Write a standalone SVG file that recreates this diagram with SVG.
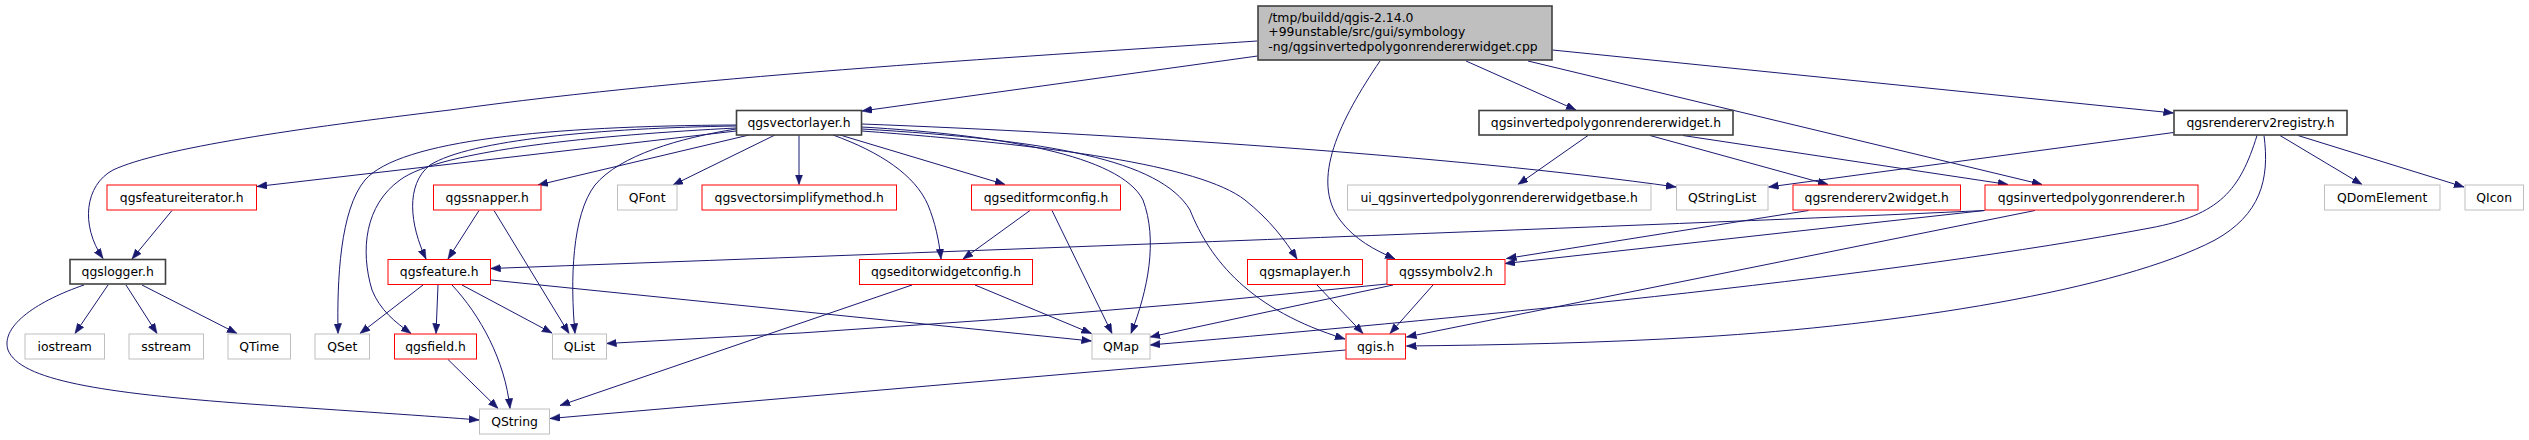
<svg xmlns="http://www.w3.org/2000/svg" width="2529" height="440" viewBox="0 0 2529 440">
<style>
text{font-family:"DejaVu Sans","Liberation Sans",sans-serif;font-size:12.4px;fill:#000;text-anchor:middle}
.main text{text-anchor:start}
rect{fill:#fff;stroke-width:1}
.doc rect{stroke:#404040;stroke-width:1.6}
.red rect{stroke:#ff0000}
.grey rect{stroke:#bfbfbf}
.main rect{fill:#bfbfbf;stroke:#404040;stroke-width:1.6}
#edges path{fill:none;stroke:#191970;stroke-width:1;marker-end:url(#ah)}
</style>
<defs>
<marker id="ah" markerUnits="userSpaceOnUse" markerWidth="11" markerHeight="8" refX="10" refY="3.75" orient="auto">
<path d="M0,0 L10,3.75 L0,7.5 z" fill="#191970" stroke="#191970" stroke-width="0.5"/>
</marker>
</defs>
<rect x="0" y="0" width="2529" height="440" fill="#fff" stroke="none"/>
<g id="edges">
<path d="M1257,41 C1050,55 700,75 450,110 C300,128 160,148 113,170 C85,185 80,225 103,258.5"/>
<path d="M1257.5,56 L862,111"/>
<path d="M1380,61 C1340,120 1310,180 1340,220 C1355,240 1375,250 1395,259"/>
<path d="M1466,61 L1576,110"/>
<path d="M1528,61 L2042,184.5"/>
<path d="M1552.5,50 L2173.5,113"/>
<path d="M736,131 L257,186.5"/>
<path d="M749,135 L538,185"/>
<path d="M775,135 L673,185"/>
<path d="M799,135.5 L799,184.5"/>
<path d="M840,135 L1005,184.5"/>
<path d="M833,135 C880,152 915,175 928,205 C935,222 939,240 941,259"/>
<path d="M862,124 C1100,133 1450,155 1676,187"/>
<path d="M862,127 C1000,135 1120,155 1143,200 C1158,240 1148,290 1131,333.5"/>
<path d="M862,129 C1050,140 1160,160 1190,210 C1210,260 1250,310 1345,339"/>
<path d="M862,131 C1050,145 1200,165 1245,200 C1270,220 1285,240 1297,259"/>
<path d="M736,126 C600,128 470,140 430,165 C405,185 410,225 426,259"/>
<path d="M736,125 C550,126 400,140 365,180 C340,210 337,280 338,333.5"/>
<path d="M736,128 C600,135 440,150 400,180 C365,205 360,250 372,290 C380,310 395,322 411,333.5"/>
<path d="M736,129 C680,138 620,155 595,185 C572,215 570,280 575,333.5"/>
<path d="M172,210.5 L132,259"/>
<path d="M108,285 L75,333.5"/>
<path d="M126,285 L157,333.5"/>
<path d="M142,285 L237,333.5"/>
<path d="M84,285 C40,300 0,325 8,350 C20,380 100,393 250,404 C350,411 430,416 479,420"/>
<path d="M479,210.5 L448,259"/>
<path d="M494,210.5 L569,333.5"/>
<path d="M423,285 L360,333.5"/>
<path d="M438,285 L436,333.5"/>
<path d="M452,285 C480,315 505,360 510,408.5"/>
<path d="M462,285 L552,333"/>
<path d="M491,280 L1091.5,341"/>
<path d="M448,359.5 L498,408.5"/>
<path d="M1030,210.5 L963,259"/>
<path d="M1052,210.5 L1112,333.5"/>
<path d="M975,285 L1091.5,333.5"/>
<path d="M912,285 L560,405.5"/>
<path d="M1317,285 L1363,333.5"/>
<path d="M1433,285 L1390,333.5"/>
<path d="M1393,285 L1150,337"/>
<path d="M1387,284 Q1000,325 606.5,343.5"/>
<path d="M1345.5,350 L550,418.5"/>
<path d="M1588,135.5 L1518,184.5"/>
<path d="M1650,135.5 L1828,184.5"/>
<path d="M1683,135.5 L2008,184.5"/>
<path d="M2173.5,132.5 L1768.5,187"/>
<path d="M2280,135.5 L2362,184.5"/>
<path d="M2298,135.5 L2464,187"/>
<path d="M2257,135.5 C2240,190 2220,215 2150,228 C1900,275 1500,315 1150,345"/>
<path d="M2264,135.5 C2270,180 2260,215 2215,240 C2120,290 1900,325 1700,337 C1600,343 1500,345 1406.5,346"/>
<path d="M1808.5,210.5 L1506.5,258.5"/>
<path d="M1984.5,210.5 L1505,263.5"/>
<path d="M1984.5,210.5 Q1700,224 490.6,268.5"/>
<path d="M2035,210.5 L1406.5,337"/>
</g>
<g id="n_main" class="main"><rect x="1258" y="6" width="294" height="54"/><text x="1268.3" y="21.8">/tmp/buildd/qgis-2.14.0</text><text x="1268.3" y="36.3">+99unstable/src/gui/symbology</text><text x="1268.3" y="50.8">-ng/qgsinvertedpolygonrendererwidget.cpp</text></g>
<g id="n_qgsvectorlayer" class="doc"><rect x="736.5" y="110.5" width="125" height="24.5"/><text x="799" y="126.8">qgsvectorlayer.h</text></g>
<g id="n_qgsinvertedpolygonrendererwidget" class="doc"><rect x="1479" y="110.5" width="254" height="24.5"/><text x="1606" y="126.8">qgsinvertedpolygonrendererwidget.h</text></g>
<g id="n_qgsrendererv2registry" class="doc"><rect x="2174" y="110.5" width="173" height="24.5"/><text x="2260.5" y="126.8">qgsrendererv2registry.h</text></g>
<g id="n_qgsfeatureiterator" class="red"><rect x="107" y="185" width="149.5" height="25"/><text x="181.7" y="201.5">qgsfeatureiterator.h</text></g>
<g id="n_qgssnapper" class="red"><rect x="433.5" y="185" width="107.5" height="25"/><text x="487.2" y="201.5">qgssnapper.h</text></g>
<g id="n_QFont" class="grey"><rect x="617.5" y="185" width="59.5" height="25"/><text x="647.2" y="201.5">QFont</text></g>
<g id="n_qgsvectorsimplifymethod" class="red"><rect x="702" y="185" width="194.5" height="25"/><text x="799.2" y="201.5">qgsvectorsimplifymethod.h</text></g>
<g id="n_qgseditformconfig" class="red"><rect x="971.5" y="185" width="149" height="25"/><text x="1046" y="201.5">qgseditformconfig.h</text></g>
<g id="n_ui_widgetbase" class="grey"><rect x="1347.5" y="185" width="303.5" height="25"/><text x="1499.2" y="201.5">ui_qgsinvertedpolygonrendererwidgetbase.h</text></g>
<g id="n_QStringList" class="grey"><rect x="1676.5" y="185" width="91.5" height="25"/><text x="1722.2" y="201.5">QStringList</text></g>
<g id="n_qgsrendererv2widget" class="red"><rect x="1793" y="185" width="167.5" height="25"/><text x="1876.7" y="201.5">qgsrendererv2widget.h</text></g>
<g id="n_qgsinvertedpolygonrenderer" class="red"><rect x="1985" y="185" width="213" height="25"/><text x="2091.5" y="201.5">qgsinvertedpolygonrenderer.h</text></g>
<g id="n_QDomElement" class="grey"><rect x="2324.5" y="185" width="115.5" height="25"/><text x="2382.2" y="201.5">QDomElement</text></g>
<g id="n_QIcon" class="grey"><rect x="2465" y="185" width="58.5" height="25"/><text x="2494.2" y="201.5">QIcon</text></g>
<g id="n_qgslogger" class="doc"><rect x="70" y="259.5" width="95.5" height="24.5"/><text x="117.7" y="276">qgslogger.h</text></g>
<g id="n_qgsfeature" class="red"><rect x="388" y="259.5" width="102.5" height="25"/><text x="439.2" y="276">qgsfeature.h</text></g>
<g id="n_qgseditorwidgetconfig" class="red"><rect x="859.5" y="259.5" width="173" height="25"/><text x="946" y="276">qgseditorwidgetconfig.h</text></g>
<g id="n_qgsmaplayer" class="red"><rect x="1247.5" y="259.5" width="115" height="25"/><text x="1305" y="276">qgsmaplayer.h</text></g>
<g id="n_qgssymbolv2" class="red"><rect x="1387" y="259.5" width="118" height="25"/><text x="1446" y="276">qgssymbolv2.h</text></g>
<g id="n_iostream" class="grey"><rect x="25" y="334" width="79.5" height="25"/><text x="64.7" y="350.5">iostream</text></g>
<g id="n_sstream" class="grey"><rect x="129" y="334" width="74.5" height="25"/><text x="166.2" y="350.5">sstream</text></g>
<g id="n_QTime" class="grey"><rect x="228" y="334" width="62.5" height="25"/><text x="259.2" y="350.5">QTime</text></g>
<g id="n_QSet" class="grey"><rect x="315" y="334" width="54.5" height="25"/><text x="342.2" y="350.5">QSet</text></g>
<g id="n_qgsfield" class="red"><rect x="394.5" y="334" width="82" height="25"/><text x="435.5" y="350.5">qgsfield.h</text></g>
<g id="n_QList" class="grey"><rect x="552.5" y="334" width="54" height="25"/><text x="579.5" y="350.5">QList</text></g>
<g id="n_QMap" class="grey"><rect x="1092" y="334" width="58" height="25"/><text x="1121" y="350.5">QMap</text></g>
<g id="n_qgis" class="red"><rect x="1346" y="334" width="59.5" height="25"/><text x="1375.7" y="350.5">qgis.h</text></g>
<g id="n_QString" class="grey"><rect x="479.5" y="409" width="70" height="25"/><text x="514.5" y="425.5">QString</text></g>
</svg>
